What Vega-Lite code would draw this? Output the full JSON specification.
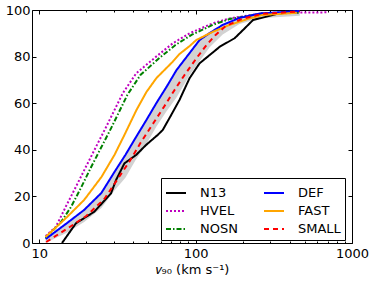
{
"$schema":"https://vega.github.io/schema/vega-lite/v6.json",
"width":320,"height":233,
"autosize":{"type":"none"},
"padding":{"left":32,"top":10,"right":22,"bottom":39},
"config":{"view":{"stroke":"#000","strokeWidth":1},"font":"DejaVu Sans",
 "axis":{"domain":false,"grid":false,"labelFlush":false,"tickColor":"#000","labelColor":"#000","labelFont":"DejaVu Sans","labelFontSize":13,"titleFont":"DejaVu Sans","titleFontSize":13,"titleFontWeight":"normal","titleColor":"#000"},
 "legend":{"orient":"none","legendX":129,"legendY":168,"columns":2,"title":null,"symbolType":"stroke","symbolSize":400,"labelFontSize":13,"labelFont":"DejaVu Sans","labelColor":"#000","labelOffset":13,"columnPadding":22,"rowPadding":0,"padding":4,"strokeColor":"#000","fillColor":"#fff","cornerRadius":0}},
"datasets":{
"band":[
{"v":11.0,"lo":0,"hi":1.7},{"v":15.1,"lo":4.5,"hi":8.6},{"v":19.4,"lo":9,"hi":14.2},{"v":25.0,"lo":15,"hi":21.5},{"v":30.3,"lo":22.5,"hi":30.5},{"v":35.6,"lo":28,"hi":37.8},{"v":41.3,"lo":35.5,"hi":45.1},{"v":48.5,"lo":42.5,"hi":52.8},{"v":56.2,"lo":50,"hi":60.1},{"v":65.2,"lo":56.5,"hi":67.0},{"v":75.5,"lo":62.5,"hi":74.2},{"v":91.5,"lo":72,"hi":81.5},{"v":106,"lo":78,"hi":87.1},{"v":123,"lo":84,"hi":90.1},{"v":149,"lo":89.5,"hi":93.6},{"v":191,"lo":94,"hi":96.6},{"v":257,"lo":96.5,"hi":98.5},{"v":464,"lo":97.5,"hi":99.6}],
"lines":[
{"model":"N13","v":14.0,"pct":0},{"model":"N13","v":17.2,"pct":8.5},{"model":"N13","v":22.5,"pct":13.4},{"model":"N13","v":28.8,"pct":21.3},{"model":"N13","v":31.0,"pct":27.0},{"model":"N13","v":35.1,"pct":34.2},{"model":"N13","v":41.7,"pct":37.8},{"model":"N13","v":48.3,"pct":42.1},{"model":"N13","v":57.3,"pct":46.4},{"model":"N13","v":61.7,"pct":48.5},{"model":"N13","v":69.8,"pct":54.9},{"model":"N13","v":78.9,"pct":61.4},{"model":"N13","v":91.5,"pct":70.7},{"model":"N13","v":106,"pct":77.1},{"model":"N13","v":142.6,"pct":84.2},{"model":"N13","v":177.8,"pct":87.9},{"model":"N13","v":201,"pct":91.4},{"model":"N13","v":233,"pct":95.7},{"model":"N13","v":257,"pct":96.4},{"model":"N13","v":345,"pct":98.6},{"model":"N13","v":442,"pct":99.0},
{"model":"HVEL","v":11.0,"pct":3.0},{"model":"HVEL","v":12.8,"pct":7.0},{"model":"HVEL","v":14.8,"pct":15.6},{"model":"HVEL","v":17.2,"pct":24.2},{"model":"HVEL","v":19.9,"pct":32.7},{"model":"HVEL","v":23.1,"pct":41.3},{"model":"HVEL","v":26.8,"pct":49.8},{"model":"HVEL","v":34.2,"pct":64.2},{"model":"HVEL","v":41.7,"pct":72.8},{"model":"HVEL","v":56.0,"pct":80.0},{"model":"HVEL","v":71.5,"pct":85.7},{"model":"HVEL","v":91.5,"pct":90.0},{"model":"HVEL","v":129,"pct":94.3},{"model":"HVEL","v":165,"pct":96.4},{"model":"HVEL","v":270,"pct":98.6},{"model":"HVEL","v":345,"pct":98.8},{"model":"HVEL","v":705,"pct":99.0},
{"model":"NOSN","v":11.0,"pct":2.1},{"model":"NOSN","v":13.8,"pct":9.0},{"model":"NOSN","v":16.0,"pct":15.5},{"model":"NOSN","v":18.6,"pct":24.0},{"model":"NOSN","v":21.5,"pct":32.6},{"model":"NOSN","v":25.0,"pct":41.2},{"model":"NOSN","v":28.9,"pct":49.4},{"model":"NOSN","v":36.6,"pct":63.5},{"model":"NOSN","v":44.4,"pct":72.1},{"model":"NOSN","v":58.7,"pct":79.4},{"model":"NOSN","v":74.4,"pct":85.0},{"model":"NOSN","v":94.2,"pct":89.3},{"model":"NOSN","v":128.5,"pct":93.6},{"model":"NOSN","v":165,"pct":96.1},{"model":"NOSN","v":268,"pct":98.5},{"model":"NOSN","v":464,"pct":98.8},
{"model":"DEF","v":11.0,"pct":1.7},{"model":"DEF","v":15.1,"pct":8.6},{"model":"DEF","v":19.4,"pct":14.2},{"model":"DEF","v":25.0,"pct":21.5},{"model":"DEF","v":30.3,"pct":30.5},{"model":"DEF","v":35.6,"pct":37.8},{"model":"DEF","v":41.3,"pct":45.1},{"model":"DEF","v":48.5,"pct":52.8},{"model":"DEF","v":56.2,"pct":60.1},{"model":"DEF","v":65.2,"pct":67.0},{"model":"DEF","v":75.5,"pct":74.2},{"model":"DEF","v":91.5,"pct":81.5},{"model":"DEF","v":106,"pct":87.1},{"model":"DEF","v":123,"pct":90.1},{"model":"DEF","v":149,"pct":93.6},{"model":"DEF","v":191,"pct":96.6},{"model":"DEF","v":257,"pct":98.5},{"model":"DEF","v":464,"pct":99.6},
{"model":"FAST","v":11.0,"pct":2.6},{"model":"FAST","v":15.1,"pct":11.2},{"model":"FAST","v":19.4,"pct":18.5},{"model":"FAST","v":25.0,"pct":28.3},{"model":"FAST","v":30.3,"pct":37.8},{"model":"FAST","v":35.1,"pct":46.4},{"model":"FAST","v":41.9,"pct":57.1},{"model":"FAST","v":48.5,"pct":64.8},{"model":"FAST","v":56.2,"pct":70.8},{"model":"FAST","v":71.2,"pct":77.7},{"model":"FAST","v":78.9,"pct":81.1},{"model":"FAST","v":91.5,"pct":84.5},{"model":"FAST","v":101,"pct":87.1},{"model":"FAST","v":128.5,"pct":90.6},{"model":"FAST","v":165,"pct":93.6},{"model":"FAST","v":212,"pct":96.0},{"model":"FAST","v":268,"pct":97.9},{"model":"FAST","v":444,"pct":98.8},
{"model":"SMALL","v":11.09,"pct":0.43},{"model":"SMALL","v":15.3,"pct":6.4},{"model":"SMALL","v":20.0,"pct":11.6},{"model":"SMALL","v":26.1,"pct":18.9},{"model":"SMALL","v":32.1,"pct":27.9},{"model":"SMALL","v":38.3,"pct":35.6},{"model":"SMALL","v":44.4,"pct":42.9},{"model":"SMALL","v":53.8,"pct":51.5},{"model":"SMALL","v":63.3,"pct":58.8},{"model":"SMALL","v":73.4,"pct":65.7},{"model":"SMALL","v":85.0,"pct":72.1},{"model":"SMALL","v":101.5,"pct":79.4},{"model":"SMALL","v":117.6,"pct":85.0},{"model":"SMALL","v":134.3,"pct":89.3},{"model":"SMALL","v":155.7,"pct":93.1},{"model":"SMALL","v":197,"pct":96.1},{"model":"SMALL","v":265,"pct":98.3},{"model":"SMALL","v":464,"pct":99.4}]
},
"layer":[
{"data":{"name":"band"},"mark":{"type":"area","color":"#d2d2d2"},
 "encoding":{
  "x":{"field":"v","type":"quantitative","scale":{"type":"log","domain":[9,1000],"nice":false},
   "axis":{"orient":"bottom","values":[10,100,1000],"format":"d","tickSize":-4,"labelPadding":8,"title":"𝑣₉₀ (km s⁻¹)","titlePadding":3}},
  "y":{"field":"lo","type":"quantitative","scale":{"domain":[0,100],"nice":false},
   "axis":{"orient":"left","values":[0,20,40,60,80,100],"tickSize":-4,"labelPadding":6,"title":null}},
  "y2":{"field":"hi"}}},
{"data":{"name":"band"},"mark":{"type":"area","opacity":0},
 "encoding":{
  "x":{"field":"v","type":"quantitative","scale":{"type":"log","domain":[9,1000],"nice":false},"axis":{"orient":"bottom","values":[20,30,40,50,60,70,80,90,200,300,400,500,600,700,800,900],"labels":false,"tickSize":-2,"title":null}},
  "y":{"field":"lo","type":"quantitative","scale":{"domain":[0,100],"nice":false},"axis":{"orient":"right","values":[0,20,40,60,80,100],"labels":false,"tickSize":-4,"title":null}},
  "y2":{"field":"hi"}}},
{"data":{"name":"band"},"mark":{"type":"area","opacity":0},
 "encoding":{
  "x":{"field":"v","type":"quantitative","scale":{"type":"log","domain":[9,1000],"nice":false},"axis":{"orient":"top","values":[10,100,1000],"labels":false,"tickSize":-4,"title":null}},
  "y":{"field":"lo","type":"quantitative","scale":{"domain":[0,100],"nice":false},"axis":null},
  "y2":{"field":"hi"}}},
{"data":{"name":"band"},"mark":{"type":"area","opacity":0},
 "encoding":{
  "x":{"field":"v","type":"quantitative","scale":{"type":"log","domain":[9,1000],"nice":false},"axis":{"orient":"top","values":[20,30,40,50,60,70,80,90,200,300,400,500,600,700,800,900],"labels":false,"tickSize":-2,"title":null}},
  "y":{"field":"lo","type":"quantitative","scale":{"domain":[0,100],"nice":false},"axis":null},
  "y2":{"field":"hi"}}},
{"data":{"name":"lines"},"mark":{"type":"line"},
 "encoding":{
  "x":{"field":"v","type":"quantitative","scale":{"type":"log","domain":[9,1000],"nice":false},"axis":null},
  "y":{"field":"pct","type":"quantitative","scale":{"domain":[0,100],"nice":false},"axis":null},
  "color":{"field":"model","type":"nominal",
   "scale":{"domain":["N13","HVEL","NOSN","DEF","FAST","SMALL"],"range":["#000000","#bf00bf","#008000","#0000ff","#ffa500","#ff0000"]}},
  "strokeDash":{"field":"model","type":"nominal",
   "scale":{"domain":["N13","HVEL","NOSN","DEF","FAST","SMALL"],"range":[[1,0],[2,2],[5,2,1.5,2],[1,0],[1,0],[5,4]]}},
  "strokeWidth":{"field":"model","type":"nominal",
   "scale":{"domain":["N13","HVEL","NOSN","DEF","FAST","SMALL"],"range":[2,2,2,2.5,2,2.5]}}}}
],
"resolve":{"axis":{"x":"independent","y":"independent"}}
}
